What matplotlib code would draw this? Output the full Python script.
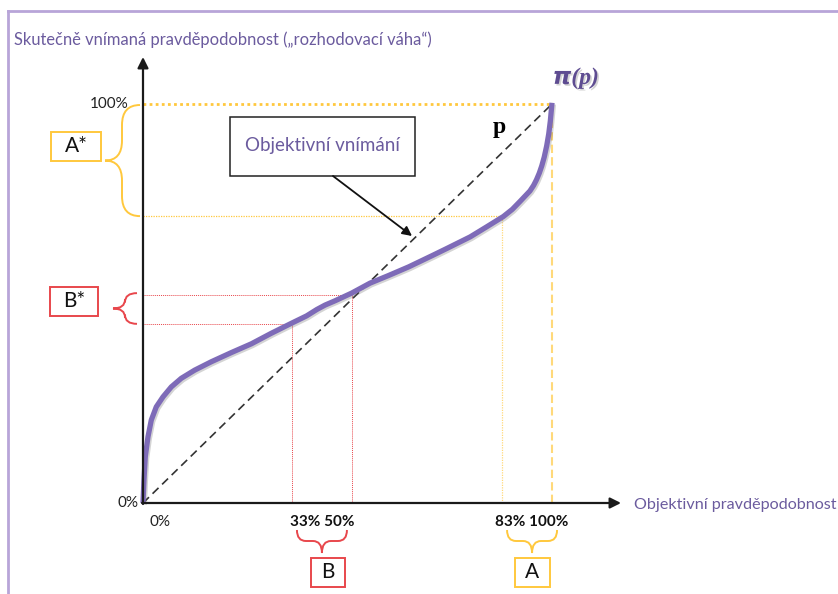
import matplotlib
matplotlib.use("Agg")
import matplotlib.pyplot as plt
from matplotlib.path import Path
from matplotlib.patches import PathPatch, Rectangle
import matplotlib.patheffects as pe

# ---------------- data ----------------
curve_x = [0.0, 0.0024, 0.0056, 0.0122, 0.0203, 0.0325, 0.0489, 0.0692, 0.0936, 0.1264,
           0.167, 0.216, 0.265, 0.313, 0.364, 0.400, 0.425, 0.445, 0.470, 0.510,
           0.555, 0.600, 0.650, 0.709, 0.743, 0.800, 0.840, 0.881, 0.903, 0.922,
           0.946, 0.955, 0.962, 0.969, 0.975, 0.981, 0.987, 0.992, 0.996, 1.000]
curve_y = [0.000, 0.058, 0.116, 0.166, 0.208, 0.241, 0.266, 0.291, 0.3125, 0.333,
           0.354, 0.377, 0.399, 0.425, 0.451, 0.469, 0.485, 0.496, 0.507, 0.526,
           0.551, 0.570, 0.592, 0.621, 0.638, 0.667, 0.692, 0.718, 0.736, 0.756,
           0.782, 0.796, 0.810, 0.827, 0.845, 0.867, 0.895, 0.925, 0.958, 1.003]

diag_x = [0.0, 1.0]
diag_y = [0.0, 1.0]

# guide points (x position on the plot, y level of the curve)
B_x = [0.364, 0.511]
B_y = [0.449, 0.521]
A_x = [0.878, 1.0]
A_y = [0.719, 1.0]
B_labels = ["33%", "50%"]
A_labels = ["83%", "100%"]

title = "Skutečně vnímaná pravděpodobnost („rozhodovací váha“)"
xlabel = "Objektivní pravděpodobnost"
box_text = "Objektivní vnímání"

# ---------------- styles ----------------
PURPLE_TXT = "#6B5B9E"
CURVE = "#7E6BB8"
YEL = "#FFC83D"
YEL_L = "#FFD97A"
RED = "#E8474C"
AX = "#1a1a1a"
FONT = "Lato"

W, H = 838, 594
fig = plt.figure(figsize=(W / 100, H / 100), dpi=100)
ax = fig.add_axes([0, 0, 1, 1])
X0, X1 = 143, 552
Y0, Y1 = 503, 104
sx = X1 - X0
sy = Y0 - Y1
ax.set_xlim((0 - X0) / sx, (W - X0) / sx)
ax.set_ylim((Y0 - H) / sy, (Y0 - 0) / sy)
ax.axis("off")


def P(px, py):
    return ((px - X0) / sx, (Y0 - py) / sy)


def dx(p):
    return p / sx


def dy(p):
    return p / sy


# border frame (left and top)
fig.add_artist(plt.Line2D([8 / W, 8 / W], [0, 1 - 11 / H], color="#B8A5D8", lw=2.0,
                          transform=fig.transFigure))
fig.add_artist(plt.Line2D([8 / W, 1], [1 - 11 / H, 1 - 11 / H], color="#B8A5D8", lw=2.0,
                          transform=fig.transFigure))

# title and axis label
ax.text(*P(14, 40), title, fontsize=11.9, color=PURPLE_TXT, family=FONT,
        ha="left", va="center")
ax.text(*P(634, 505), xlabel, fontsize=11.6, color=PURPLE_TXT, family=FONT,
        ha="left", va="center")

# guide lines: A (yellow)
ax.plot([0, A_x[1]], [A_y[1], A_y[1]], color=YEL, lw=2.0, ls=(0, (1, 1.2)), zorder=2)
ax.plot([A_x[1], A_x[1]], [0, A_y[1]], color=YEL_L, lw=1.5, ls=(0, (4, 2)), zorder=2)
ax.plot([0, A_x[0]], [A_y[0], A_y[0]], color=YEL, lw=0.9, ls=(0, (1, 1)), zorder=2)
ax.plot([A_x[0], A_x[0]], [0, A_y[0]], color=YEL_L, lw=0.9, ls=(0, (1, 1)), zorder=2)
# guide lines: B (red)
ax.plot([0, B_x[1]], [B_y[1], B_y[1]], color=RED, lw=0.7, ls=(0, (1, 1)), zorder=2)
ax.plot([B_x[1], B_x[1]], [0, B_y[1]], color=RED, lw=0.7, ls=(0, (1, 1)), zorder=2)
ax.plot([0, B_x[0]], [B_y[0], B_y[0]], color=RED, lw=0.7, ls=(0, (1, 1)), zorder=2)
ax.plot([B_x[0], B_x[0]], [0, B_y[0]], color=RED, lw=0.7, ls=(0, (1, 1)), zorder=2)

# diagonal p
ax.plot(diag_x, diag_y, color="#333333", lw=1.2, ls=(0, (5, 3)), zorder=3)

# curve pi(p)
ax.plot(curve_x, curve_y, color=CURVE, lw=3.8, solid_capstyle="butt", solid_joinstyle="round",
        zorder=4,
        path_effects=[pe.SimpleLineShadow(offset=(1.0, -1.2), shadow_color="#555555", alpha=0.25),
                      pe.Normal()])

# axes with arrows
ax.annotate("", xy=(0, dy(Y0 - 57)), xytext=(0, -dy(1)),
            arrowprops=dict(arrowstyle="-|>", lw=1.6, color=AX, mutation_scale=16,
                            shrinkA=0, shrinkB=0), zorder=5)
ax.annotate("", xy=(dx(621 - X0), 0), xytext=(-dx(1), 0),
            arrowprops=dict(arrowstyle="-|>", lw=1.6, color=AX, mutation_scale=16,
                            shrinkA=0, shrinkB=0), zorder=5)

# axis tick texts
ax.text(-dx(14), 1.0, "100%", fontsize=11, family=FONT, color="#222222", ha="right", va="center")
ax.text(-dx(5), 0.0, "0%", fontsize=11, family=FONT, color="#222222", ha="right", va="center")
ax.text(dx(17), -dy(19), "0%", fontsize=11, family=FONT, color="#222222", ha="center", va="center")
bx = (B_x[0] + B_x[1]) / 2
axc = (A_x[0] + A_x[1]) / 2 + dx(5)
ax.text(bx, -dy(19), " ".join(B_labels), fontsize=11, family=FONT, weight="bold",
        color="#111111", ha="center", va="center")
ax.text(axc, -dy(19), " ".join(A_labels), fontsize=11, family=FONT, weight="bold",
        color="#111111", ha="center", va="center")

# pi(p) and p labels
ax.text(1.0 + dx(24), 1.0 + dy(26), r"$\boldsymbol{\pi}$(p)", fontsize=17, family="Liberation Serif",
        style="italic", weight="bold", color="#5E4C91", ha="center", va="center",
        path_effects=[pe.withSimplePatchShadow(offset=(1.2, -1.2), shadow_rgbFace="#888888", alpha=0.35)])
ax.text(*P(499, 128), "p", fontsize=17, family="Liberation Serif", weight="bold",
        color="black", ha="center", va="center")

# callout box
x_a, y_a = P(230, 176)
x_b, y_b = P(415, 117)
ax.add_patch(Rectangle((x_a, y_a), x_b - x_a, y_b - y_a, fill=True, facecolor="white",
                       edgecolor="#222222", lw=1.1, zorder=6))
ax.text((x_a + x_b) / 2, (y_a + y_b) / 2 + dy(1), box_text, fontsize=13.5, family=FONT,
        color=PURPLE_TXT, ha="center", va="center", zorder=7)
ax.annotate("", xy=P(412, 236), xytext=P(333, 176),
            arrowprops=dict(arrowstyle="-|>", lw=1.3, color="#111111", mutation_scale=14,
                            shrinkA=0, shrinkB=0), zorder=6)


def vbrace(x_end, x_mid, x_tip, y0, y1, color, r):
    ym = (y0 + y1) / 2
    verts = [(x_end, y1), (x_mid, y1), (x_mid, y1 - r), (x_mid, ym + r),
             (x_mid, ym), (x_tip, ym), (x_mid, ym), (x_mid, ym - r),
             (x_mid, y0 + r), (x_mid, y0), (x_end, y0)]
    codes = [Path.MOVETO, Path.CURVE3, Path.CURVE3, Path.LINETO,
             Path.CURVE3, Path.CURVE3, Path.CURVE3, Path.CURVE3,
             Path.LINETO, Path.CURVE3, Path.CURVE3]
    ax.add_patch(PathPatch(Path(verts, codes), fill=False, edgecolor=color, lw=1.4))


def hbrace(y_end, y_mid, y_tip, x0, x1, color, r):
    xm = (x0 + x1) / 2
    verts = [(x0, y_end), (x0, y_mid), (x0 + r, y_mid), (xm - r, y_mid),
             (xm, y_mid), (xm, y_tip), (xm, y_mid), (xm + r, y_mid),
             (x1 - r, y_mid), (x1, y_mid), (x1, y_end)]
    codes = [Path.MOVETO, Path.CURVE3, Path.CURVE3, Path.LINETO,
             Path.CURVE3, Path.CURVE3, Path.CURVE3, Path.CURVE3,
             Path.LINETO, Path.CURVE3, Path.CURVE3]
    ax.add_patch(PathPatch(Path(verts, codes), fill=False, edgecolor=color, lw=1.4))


def label_box(cx, cy, w, h, text, color):
    ax.add_patch(Rectangle((cx - w / 2, cy - h / 2), w, h, fill=False, edgecolor=color, lw=1.4))
    ax.text(cx, cy, text, fontsize=15, family=FONT, color="#111111", ha="center", va="center")


# left braces
vbrace(-dx(3), -dx(21), -dx(38), A_y[0], A_y[1] - dy(1), YEL, dy(20))
vbrace(-dx(6), -dx(18), -dx(30), B_y[0], B_y[1] + dy(2), RED, dy(9))
label_box(*P(76, 146), dx(50), dy(29), "A*", YEL)
label_box(*P(74, 301), dx(47), dy(29), "B*", RED)

# bottom braces
hbrace(-dy(27), -dy(38), -dy(50), bx - dx(25), bx + dx(25), RED, dx(9))
hbrace(-dy(27), -dy(38), -dy(50), axc - dx(25), axc + dx(25), YEL, dx(9))
label_box(bx + dx(6), -dy(69), dx(34), dy(29), "B", RED)
label_box(axc, -dy(69), dx(35), dy(29), "A", YEL)

fig.savefig("out.png", dpi=100)
